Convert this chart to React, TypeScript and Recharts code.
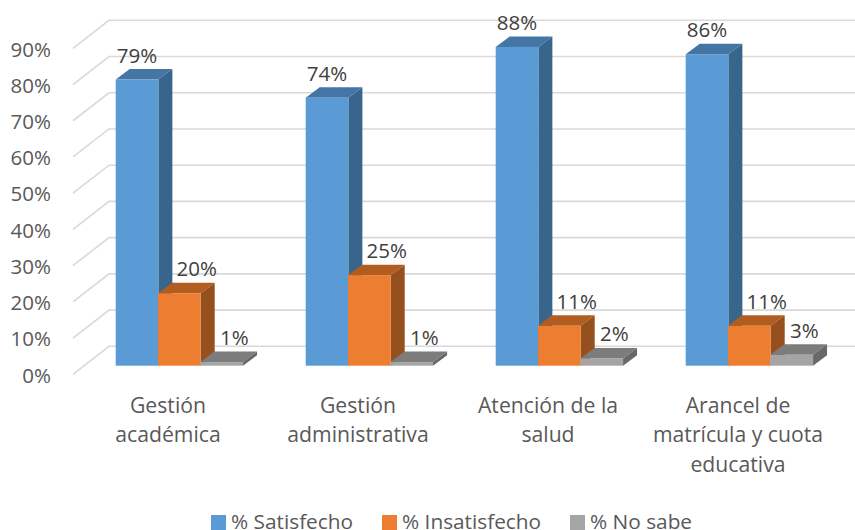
import React from "react";
import { BarChart, Bar, XAxis, YAxis, CartesianGrid, Legend, LabelList } from "recharts";

const categories = ["Gestión académica", "Gestión administrativa", "Atención de la salud", "Arancel de matrícula y cuota educativa"];
const categoryLines: Record<string, string[]> = {
  "Gestión académica": ["Gestión", "académica"],
  "Gestión administrativa": ["Gestión", "administrativa"],
  "Atención de la salud": ["Atención de la", "salud"],
  "Arancel de matrícula y cuota educativa": ["Arancel de", "matrícula y cuota", "educativa"],
};
const satisfecho = [79, 74, 88, 86];
const insatisfecho = [20, 25, 11, 11];
const noSabe = [1, 1, 2, 3];
const yTicks = [0, 10, 20, 30, 40, 50, 60, 70, 80, 90];

const data = categories.map((name, i) => ({
  name,
  satisfecho: satisfecho[i],
  insatisfecho: insatisfecho[i],
  noSabe: noSabe[i],
}));

const FONT = "'Open Sans', sans-serif";
const SHIFT_X = 11.7;
const SHIFT_Y = -8.6;
const DEPTH_X = 14;
const DEPTH_Y = -10.5;
const BAR_W = 42.67;

const box = (front: string, top: string, side: string, nudge: number) => (p: any) => {
  const x = p.x + SHIFT_X + nudge;
  const y = p.y + SHIFT_Y;
  const w = BAR_W;
  const b = y + p.height;
  const r = x + w;
  return (
    <g>
      <polygon points={`${x},${y} ${r},${y} ${r + DEPTH_X},${y + DEPTH_Y} ${x + DEPTH_X},${y + DEPTH_Y}`} fill={top} />
      <polygon points={`${r},${y} ${r + DEPTH_X},${y + DEPTH_Y} ${r + DEPTH_X},${b + DEPTH_Y} ${r},${b}`} fill={side} />
      <rect x={x} y={y} width={w} height={p.height} fill={front} />
    </g>
  );
};

const barLabel = (dx: number) => (p: any) => (
  <text
    x={p.x + p.width / 2 + SHIFT_X + dx}
    y={p.y + SHIFT_Y - 25}
    textAnchor="middle"
    dominantBaseline="central"
    fontFamily={FONT}
    fontSize={20.5}
    fill="#404040"
  >
    {p.value}%
  </text>
);

const CategoryTick = (p: any) => (
  <text x={p.x} y={p.y} textAnchor="middle" fontFamily={FONT} fontSize={21.2} fill="#595959">
    {(categoryLines[p.payload.value] || []).map((line, i) => (
      <tspan key={line} x={p.x} y={p.y + 30.5 + i * 29.5}>
        {line}
      </tspan>
    ))}
  </text>
);

const gridLine = (p: any) => (
  <path
    key={p.key ?? p.y1}
    d={`M${p.x1},${p.y1} L${p.x1 + 36},${p.y1 - 28} L${p.x2 + 36},${p.y1 - 28}`}
    fill="none"
    stroke="#D9D9D9"
    strokeWidth={1.6}
  />
);

const legendContent = (p: any) => (
  <div style={{ position: "relative", height: 30, fontFamily: FONT, fontSize: 20.8, color: "#595959" }}>
    {(p.payload || []).map((e: any, i: number) => (
      <div key={e.value} style={{ position: "absolute", left: [211, 382, 570][i], top: 15, width: 15, height: 15, background: e.color }} />
    ))}
    {(p.payload || []).map((e: any, i: number) => (
      <div key={e.value} style={{ position: "absolute", left: [231, 402, 590][i], top: 13, height: 17, lineHeight: "17px", whiteSpace: "nowrap" }}>
        {e.value}
      </div>
    ))}
  </div>
);

export default function App() {
  return (
    <div style={{ position: "absolute", left: 0, top: 0, width: 855, height: 530, overflow: "hidden", background: "#fff" }}>
      <BarChart
        width={855}
        height={530}
        data={data}
        margin={{ top: 48.3, right: 22, bottom: 0, left: 0 }}
        barGap={0}
        barSize={42.67}
      >
        <CartesianGrid vertical={false} horizontal={gridLine} />
        <XAxis dataKey="name" height={125.7} axisLine={false} tickLine={false} interval={0} tick={CategoryTick} />
        <YAxis
          width={73}
          domain={[0, 90]}
          ticks={yTicks}
          axisLine={false}
          tickLine={false}
          tickSize={0}
          tickMargin={22}
          tickFormatter={(v: number) => `${v}%`}
          tick={{ fontFamily: FONT, fontSize: 20.5, fill: "#595959", dy: 1 }}
        />
        <Legend
          verticalAlign="bottom"
          height={30}
          itemSorter={null}
          wrapperStyle={{ left: 0, bottom: 0, width: 855, height: 30 }}
          content={legendContent}
        />
        <Bar dataKey="satisfecho" name="% Satisfecho" fill="#5B9BD5" isAnimationActive={false} shape={box("#5B9BD5", "#4475A5", "#38658C", 0)}>
          <LabelList dataKey="satisfecho" content={barLabel(0)} />
        </Bar>
        <Bar dataKey="insatisfecho" name="% Insatisfecho" fill="#ED7D31" isAnimationActive={false} shape={box("#ED7D31", "#B35C20", "#96501E", -0.33)}>
          <LabelList dataKey="insatisfecho" content={barLabel(17)} />
        </Bar>
        <Bar dataKey="noSabe" name="% No sabe" fill="#A5A5A5" isAnimationActive={false} shape={box("#A5A5A5", "#7C7C7C", "#686868", -0.67)}>
          <LabelList dataKey="noSabe" content={barLabel(12)} />
        </Bar>
      </BarChart>
    </div>
  );
}
